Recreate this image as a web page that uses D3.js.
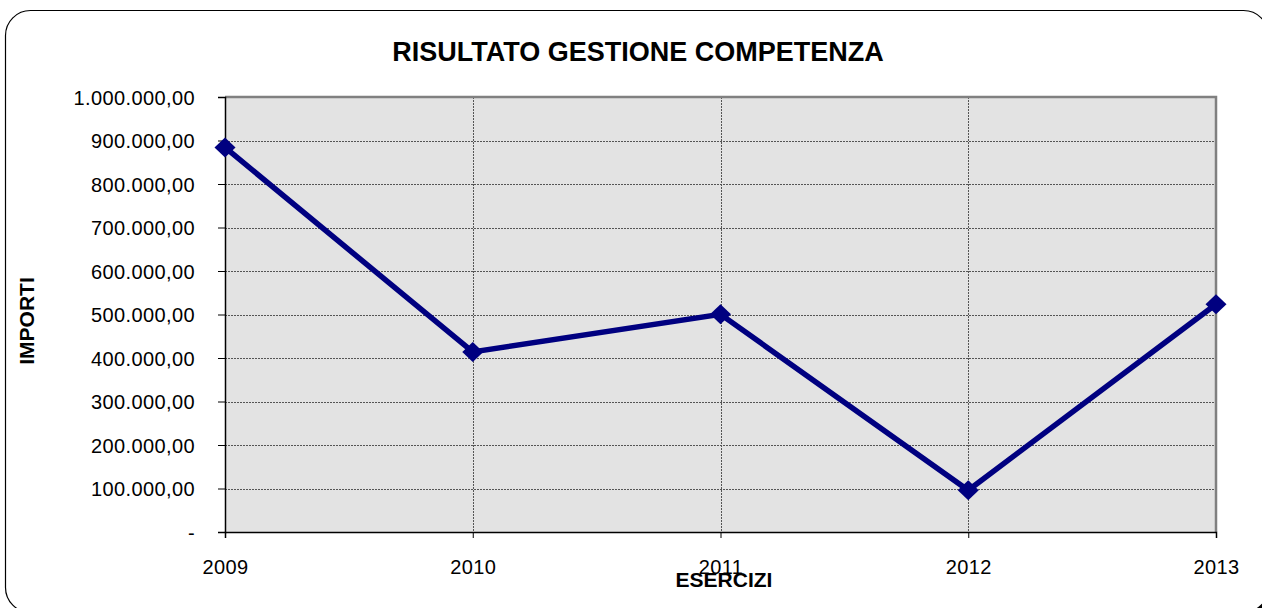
<!DOCTYPE html>
<html>
<head>
<meta charset="utf-8">
<script src="https://cdn.jsdelivr.net/npm/d3@7"></script>
<style>
  html, body { margin: 0; padding: 0; background: #fff; }
  svg { display: block; font-family: "Liberation Sans", Arial, sans-serif; }
</style>
</head>
<body>
<svg id="chart" width="1262" height="608"></svg>
<script>
const categories = ["2009", "2010", "2011", "2012", "2013"];
const values = [884000, 414000, 500500, 96000, 523500];
const yTicks = [0, 100000, 200000, 300000, 400000, 500000, 600000, 700000, 800000, 900000, 1000000];
const title = "RISULTATO GESTIONE COMPETENZA";
const xTitle = "ESERCIZI";
const yTitle = "IMPORTI";

const svg = d3.select("#chart");
const plot = { left: 225, top: 97, right: 1216, bottom: 532 };

// frame with shadow
svg.append("rect").attr("x", 13.5).attr("y", 18.5).attr("width", 1263).attr("height", 602)
  .attr("rx", 25).attr("fill", "#000");
svg.append("rect").attr("x", 5.5).attr("y", 10.5).attr("width", 1263).attr("height", 602)
  .attr("rx", 25).attr("fill", "#fff").attr("stroke", "#000").attr("stroke-width", 1.2);

const x = d3.scalePoint().domain(categories).range([plot.left, plot.right]).padding(0);
const y = d3.scaleLinear().domain([0, 1000000]).range([plot.bottom, plot.top]);

// plot background
svg.append("rect").attr("x", plot.left).attr("y", plot.top)
  .attr("width", plot.right - plot.left).attr("height", plot.bottom - plot.top)
  .attr("fill", "#e3e3e3");

// grid lines
svg.append("g").selectAll("line").data(yTicks.filter(d => d > 0 && d < 1000000)).join("line")
  .attr("x1", plot.left).attr("x2", plot.right)
  .attr("y1", d => Math.round(y(d)) + 0.5).attr("y2", d => Math.round(y(d)) + 0.5)
  .attr("stroke", "#555").attr("stroke-width", 1).attr("stroke-dasharray", "2,1");
svg.append("g").selectAll("line").data(categories.slice(1, -1)).join("line")
  .attr("y1", plot.top).attr("y2", plot.bottom)
  .attr("x1", d => Math.round(x(d)) + 0.5).attr("x2", d => Math.round(x(d)) + 0.5)
  .attr("stroke", "#555").attr("stroke-width", 1).attr("stroke-dasharray", "2,1");

// top/right gray border
svg.append("path")
  .attr("d", `M${plot.left},${plot.top} H${plot.right} V${plot.bottom}`)
  .attr("fill", "none").attr("stroke", "#808080").attr("stroke-width", 2.5);

// y axis
const fmt = d => d === 0 ? "-" : d3.format(",.2f")(d).replace(/,/g, "#").replace(".", ",").replace(/#/g, ".");
const yAxis = svg.append("g").attr("transform", `translate(${plot.left},0)`)
  .call(d3.axisLeft(y).tickValues(yTicks).tickFormat(fmt).tickSize(7).tickPadding(23));
yAxis.select(".domain").attr("stroke", "#000").attr("stroke-width", 1.5);
yAxis.selectAll(".tick line").attr("stroke", "#000");
yAxis.selectAll("text").attr("font-size", 20).attr("fill", "#000")
  .attr("letter-spacing", "0.4px")
  .attr("font-family", "'Liberation Sans', Arial, sans-serif")
  .attr("dy", "0.36em");

// x axis
const xAxis = svg.append("g").attr("transform", `translate(0,${plot.bottom})`)
  .call(d3.axisBottom(x).tickSize(6).tickPadding(22));
xAxis.select(".domain").attr("stroke", "#000").attr("stroke-width", 1.5);
xAxis.selectAll(".tick line").attr("stroke", "#000");
xAxis.selectAll("text").attr("font-size", 20).attr("fill", "#000")
  .attr("letter-spacing", "0.4px")
  .attr("font-family", "'Liberation Sans', Arial, sans-serif");

// line
svg.append("path").datum(values)
  .attr("d", d3.line().x((d, i) => x(categories[i])).y(d => y(d)))
  .attr("fill", "none").attr("stroke", "#000080").attr("stroke-width", 5.5)
  .attr("stroke-linejoin", "miter");

// markers
svg.append("g").selectAll("path").data(values).join("path")
  .attr("transform", (d, i) => `translate(${x(categories[i])},${y(d)})`)
  .attr("d", "M0,-10 L10.5,0 L0,10 L-10.5,0 Z")
  .attr("fill", "#000080");

// titles
svg.append("text").attr("x", 638).attr("y", 61).attr("text-anchor", "middle")
  .attr("font-size", 27).attr("font-weight", "bold").text(title);
svg.append("text").attr("x", 724).attr("y", 587).attr("text-anchor", "middle")
  .attr("font-size", 21).attr("font-weight", "bold").text(xTitle);
svg.append("text").attr("transform", "translate(34,321) rotate(-90)").attr("text-anchor", "middle")
  .attr("font-size", 21).attr("font-weight", "bold").text(yTitle);
</script>
</body>
</html>
